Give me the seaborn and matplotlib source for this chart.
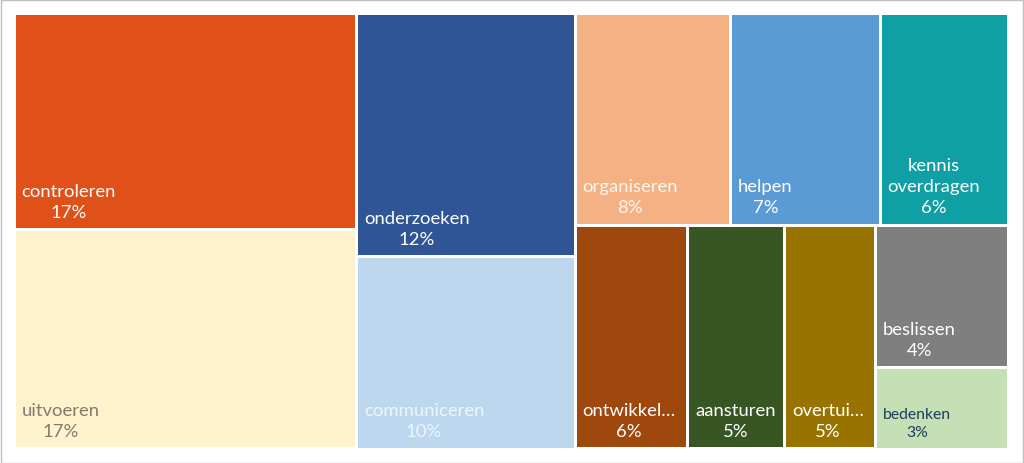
import matplotlib
matplotlib.use("Agg")
import matplotlib.pyplot as plt
from matplotlib.patches import Rectangle
import seaborn as sns

# ---- data ----
names = ["controleren", "uitvoeren", "onderzoeken", "communiceren",
         "organiseren", "helpen", "kennis\noverdragen", "ontwikkel…",
         "aansturen", "overtui…", "beslissen", "bedenken"]
values = [17.1, 17.3, 12.3, 9.7, 7.6, 7.3, 6.3, 5.8, 5.0, 4.7, 4.4, 2.5]
pct_labels = ["17%", "17%", "12%", "10%", "8%", "7%", "6%", "6%",
              "5%", "5%", "4%", "3%"]
colors = ["#E0511A", "#FFF2CC", "#2F5597", "#BDD7EE", "#F4B183", "#5B9BD5",
          "#0EA0A4", "#9E480E", "#375623", "#997300", "#7F7F7F", "#C5E0B4"]
text_colors = ["white", "#857A6E", "white", "#EEF5FB", "#FFF6EE", "white",
               "white", "white", "white", "white", "white", "#1F3A5F"]

# grouping of the treemap: 'h' = side by side, 'v' = stacked
tree = ('h', [('v', [0, 1]), ('v', [2, 3]),
              ('v', [('h', [4, 5, 6]), ('h', [7, 8, 9, ('v', [10, 11])])])])

W, H = 995.0, 436.0  # axes in pixel-like units


def node_sum(n):
    if isinstance(n, int):
        return values[n]
    return sum(node_sum(c) for c in n[1])


def layout(n, x, y, w, h, out):
    if isinstance(n, int):
        out[n] = (x, y, w, h)
        return
    d, children = n
    tot = sum(node_sum(c) for c in children)
    pos = x if d == 'h' else y
    for c in children:
        frac = node_sum(c) / tot
        if d == 'h':
            layout(c, pos, y, w * frac, h, out)
            pos += w * frac
        else:
            layout(c, x, pos, w, h * frac, out)
            pos += h * frac


rects = {}
layout(tree, 0, 0, W, H, rects)

sns.set_theme(style="white")
plt.rcParams['font.family'] = ['Lato', 'DejaVu Sans']

fig = plt.figure(figsize=(10.24, 4.64), dpi=100)
g = 1.5
ax = fig.add_axes([(14 - g) / 1024, (14 - g) / 464, (W + 2 * g) / 1024, (H + 2 * g) / 464])
ax.set_xlim(-g, W + g)
ax.set_ylim(H + g, -g)
ax.axis('off')

for i, name in enumerate(names):
    x, y, w, h = rects[i]
    ax.add_patch(Rectangle((x + g, y + g), w - 2 * g, h - 2 * g,
                           facecolor=colors[i], edgecolor='none'))
    fs = 11.3 if name == "bedenken" else 13.3
    ax.text(x + g + 6, y + h - g - 8, f"{name}\n{pct_labels[i]}",
            ha='left', va='bottom', multialignment='center',
            color=text_colors[i], fontsize=fs, linespacing=1.42)

# outer frame
fig.patches.append(Rectangle((0.5 / 1024, 0.5 / 464), 1 - 1.5 / 1024, 1 - 1.5 / 464,
                             transform=fig.transFigure, fill=False,
                             edgecolor='#BFBFBF', linewidth=1))

fig.savefig("out.png", dpi=100, facecolor='white')
